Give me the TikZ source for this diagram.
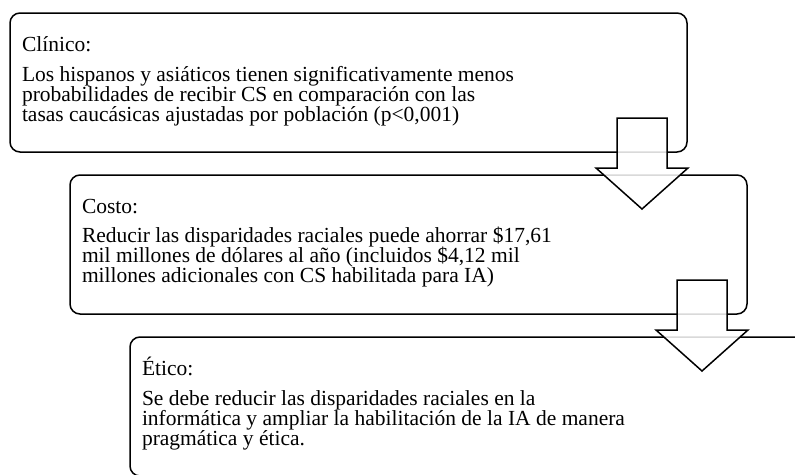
\documentclass[tikz,border=0pt]{standalone}
\usepackage{fontspec}
\setmainfont{Liberation Serif}
\begin{document}
\begin{tikzpicture}[x=1pt,y=-1pt,
  box/.style={draw=black, line width=1.5pt, rounded corners=10pt, fill=white,
    anchor=north west, minimum width=677pt, minimum height=139pt, inner sep=0pt, outer sep=0pt},
  txt/.style={anchor=base west, inner sep=0pt, outer sep=0pt, font=\fontsize{21.5}{20}\selectfont},
  blockarrow/.style={draw=black, line width=1.5pt, fill=white, fill opacity=0.85, line join=miter}
]
\clip (0,0) rectangle (795,474);
\useasboundingbox (0,0) rectangle (795,474);

\node[box] (b1) at (10,13) {};
\node[box] (b2) at (70,175) {};
\node[box] (b3) at (130,337) {};

\node[txt] (t1) at (22,51) {Clínico:};
\node[txt] (t1a) at (22,81) {Los hispanos y asiáticos tienen significativamente menos};
\node[txt] (t1b) at (22,101) {probabilidades de recibir CS en comparación con las};
\node[txt] (t1c) at (22,121) {tasas caucásicas ajustadas por población (p<0,001)};

\node[txt] (t2) at (82,213) {Costo:};
\node[txt] (t2a) at (82,242) {Reducir las disparidades raciales puede ahorrar \$17,61};
\node[txt] (t2b) at (82,262) {mil millones de dólares al año (incluidos \$4,12 mil};
\node[txt] (t2c) at (82,282) {millones adicionales con CS habilitada para IA)};

\node[txt] (t3) at (142,375) {Ético:};
\node[txt] (t3a) at (142,405) {Se debe reducir las disparidades raciales en la};
\node[txt] (t3b) at (142,425) {informática y ampliar la habilitación de la IA de manera};
\node[txt] (t3c) at (142,445) {pragmática y ética.};

\draw[blockarrow] (617,118) -- (667,118) -- (667,168) -- (688,168) -- (642,209)
  -- (596,168) -- (617,168) -- cycle;
\draw[blockarrow] (677,280) -- (727,280) -- (727,330) -- (748,330) -- (702,371)
  -- (656,330) -- (677,330) -- cycle;
\end{tikzpicture}
\end{document}
